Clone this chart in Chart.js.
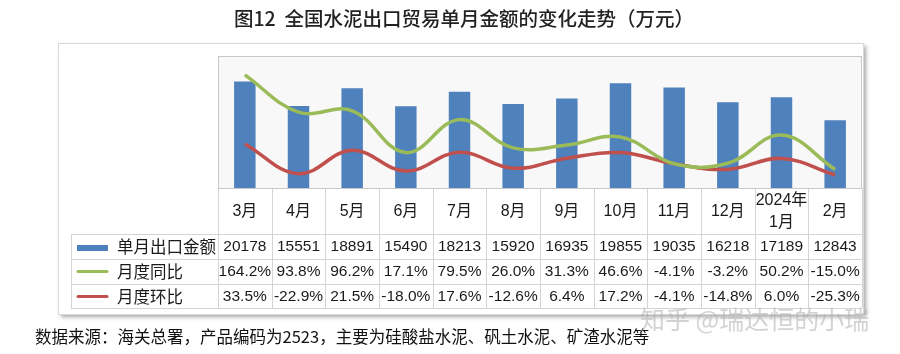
<!DOCTYPE html>
<html>
<head>
<meta charset="utf-8">
<script src="https://cdn.jsdelivr.net/npm/chart.js@4"></script>
<style>
html,body{margin:0;padding:0;background:#fff;}
#c{display:block;}
</style>
</head>
<body>
<canvas id="c" width="900" height="354"></canvas>
<script>
const categories = ['3月','4月','5月','6月','7月','8月','9月','10月','11月','12月',['2024年','1月'],'2月'];
const amount = [20178,15551,18891,15490,18213,15920,16935,19855,19035,16218,17189,12843];
const yoy = [164.2,93.8,96.2,17.1,79.5,26.0,31.3,46.6,-4.1,-3.2,50.2,-15.0];
const mom = [33.5,-22.9,21.5,-18.0,17.6,-12.6,6.4,17.2,-4.1,-14.8,6.0,-25.3];
const seriesNames = ['单月出口金额','月度同比','月度环比'];
const titleText = '图12  全国水泥出口贸易单月金额的变化走势（万元）';
const noteText = '数据来源：海关总署，产品编码为2523，主要为硅酸盐水泥、矾土水泥、矿渣水泥等';
const watermarkText = '知乎 @瑞达恒的小瑞';

const BLUE = '#4F81BD', GREEN = '#9BBB59', RED = '#C0504D';
const CJK = '"Noto Sans CJK SC", "Microsoft YaHei", sans-serif';
const NUM = '"Liberation Sans", "Noto Sans CJK SC", sans-serif';

function fmtPct(v){ return v.toFixed(1) + '%'; }

const decor = {
  id: 'decor',
  beforeDraw(chart){
    const ctx = chart.ctx, a = chart.chartArea;
    ctx.save();
    ctx.fillStyle = '#fff';
    ctx.fillRect(0,0,chart.width,chart.height);
    ctx.shadowColor = 'rgba(0,0,0,0.35)';
    ctx.shadowBlur = 4; ctx.shadowOffsetX = 3; ctx.shadowOffsetY = 3;
    ctx.fillStyle = '#fff';
    ctx.fillRect(58, 43, 805, 271);
    ctx.shadowColor = 'transparent';
    ctx.strokeStyle = '#d9d9d9'; ctx.lineWidth = 1;
    ctx.strokeRect(58.5, 43.5, 805, 271);
    ctx.fillStyle = '#f8f8f8';
    ctx.fillRect(a.left, a.top, a.right-a.left, a.bottom-a.top);
    ctx.strokeStyle = '#c8c8c8';
    ctx.strokeRect(a.left+0.5, a.top+0.5, a.right-a.left-1, a.bottom-a.top);
    ctx.restore();
  },
  afterDraw(chart){
    const ctx = chart.ctx, a = chart.chartArea, x = chart.scales.x;
    const n = categories.length;
    const w = (a.right - a.left)/n;
    const rows = [234, 259, 284, 308];
    const tblLeft = 71;
    ctx.save();
    ctx.strokeStyle = '#d4d4d4'; ctx.lineWidth = 1;
    ctx.beginPath();
    for (let i=0;i<=n;i++){
      const xx = Math.round(a.left + i*w) + 0.5;
      ctx.moveTo(xx, a.bottom); ctx.lineTo(xx, rows[3]);
    }
    ctx.moveTo(tblLeft+0.5, rows[0]); ctx.lineTo(tblLeft+0.5, rows[3]);
    rows.forEach(r => { ctx.moveTo(tblLeft, r+0.5); ctx.lineTo(a.right, r+0.5); });
    ctx.stroke();
    ctx.strokeStyle = '#c8c8c8';
    ctx.beginPath(); ctx.moveTo(a.left, a.bottom+0.5); ctx.lineTo(a.right, a.bottom+0.5); ctx.stroke();

    ctx.fillStyle = '#1a1a1a';
    ctx.textAlign = 'center'; ctx.textBaseline = 'middle';
    ctx.font = '16px ' + NUM;
    categories.forEach((c,i) => {
      const cx = x.getPixelForValue(i);
      if (Array.isArray(c)) {
        ctx.fillText(c[0], cx, 201);
        ctx.fillText(c[1], cx, 223);
      } else {
        ctx.fillText(c, cx, 212);
      }
    });
    const rowY = [247, 272, 297];
    ctx.font = '15.5px ' + NUM;
    amount.forEach((v,i) => ctx.fillText(String(v), x.getPixelForValue(i), rowY[0]));
    yoy.forEach((v,i) => ctx.fillText(fmtPct(v), x.getPixelForValue(i), rowY[1]));
    mom.forEach((v,i) => ctx.fillText(fmtPct(v), x.getPixelForValue(i), rowY[2]));
    ctx.fillStyle = BLUE; ctx.fillRect(77, 245, 31, 6);
    ctx.lineCap = 'round'; ctx.lineWidth = 3;
    ctx.strokeStyle = GREEN; ctx.beginPath(); ctx.moveTo(78, 271.5); ctx.lineTo(107, 271.5); ctx.stroke();
    ctx.strokeStyle = RED; ctx.beginPath(); ctx.moveTo(78, 296.5); ctx.lineTo(107, 296.5); ctx.stroke();
    ctx.fillStyle = '#1a1a1a';
    ctx.textAlign = 'left';
    ctx.font = '16.5px ' + CJK;
    seriesNames.forEach((s,i) => ctx.fillText(s, 117, rowY[i]));
    ctx.textAlign = 'center';
    ctx.font = '500 19.5px ' + CJK;
    ctx.fillStyle = '#222';
    ctx.fillText(titleText, 464, 19);
    ctx.textAlign = 'left';
    ctx.font = '16.5px ' + CJK;
    ctx.fillStyle = '#111';
    ctx.fillText(noteText, 35, 337);
    ctx.font = '25px ' + CJK;
    ctx.fillStyle = 'rgba(175,175,175,0.55)';
    ctx.fillText(watermarkText, 640, 319);
    ctx.restore();
  }
};

new Chart(document.getElementById('c'), {
  type: 'bar',
  data: {
    labels: categories,
    datasets: [
      { type:'line', label: seriesNames[1], data: yoy, yAxisID:'y1', borderColor: GREEN, borderWidth: 3.5, pointRadius: 0, tension: 0.4, order: 1, fill:false },
      { type:'line', label: seriesNames[2], data: mom, yAxisID:'y1', borderColor: RED, borderWidth: 3.5, pointRadius: 0, tension: 0.4, order: 2, fill:false },
      { type:'bar', label: seriesNames[0], data: amount, yAxisID:'y', backgroundColor: BLUE, barPercentage: 0.4, categoryPercentage: 1, order: 3 }
    ]
  },
  options: {
    responsive: false,
    animation: false,
    devicePixelRatio: 1,
    layout: { padding: { left: 218, right: 38, top: 56, bottom: 166 } },
    plugins: { legend: { display: false }, tooltip: { enabled: false }, title: { display: false } },
    scales: {
      x: { display: false, offset: true },
      y: { display: false, min: 0, max: 25000 },
      y1: { display: false, min: -50, max: 200 }
    }
  },
  plugins: [decor]
});
</script>
</body>
</html>
